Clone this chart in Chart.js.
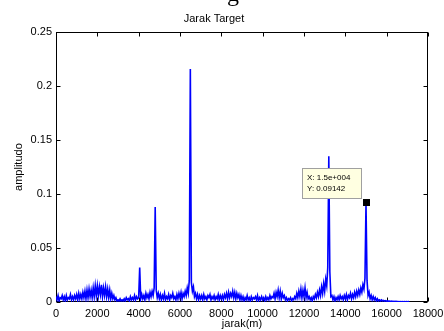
<!DOCTYPE html>
<html>
<head>
<meta charset="utf-8">
<script src="https://cdn.jsdelivr.net/npm/chart.js@4/dist/chart.umd.min.js"></script>
<style>
html, body { margin: 0; padding: 0; background: #fff; }
#wadah { position: relative; width: 444px; height: 331px; overflow: hidden; }
#potongan { position: absolute; left: 227px; top: -19px; font-family: "Liberation Serif"; font-size: 24px; line-height: 24px; color: #000; }
</style>
</head>
<body>
<div id="wadah">
  <canvas id="grafik" width="444" height="331"></canvas>
  <span id="potongan">g</span>
</div>
<script>
// Jarak sampel (m) dan amplitudo yang dibaca dari gambar
const jarakAwal = 0;
const jarakLangkah = 50;
const amplitudo = [
  // 0 - 950
  0.005,0.002,0.006,0.001,0.004,0.003,0.006,0.002,0.005,0.001,0.006,0.002,0.004,0.003,0.007,0.002,0.005,0.002,0.006,0.003,
  // 1000 - 1950
  0.007,0.002,0.008,0.003,0.007,0.003,0.009,0.004,0.010,0.003,0.011,0.004,0.012,0.005,0.011,0.004,0.013,0.005,0.015,0.006,
  // 2000 - 2950
  0.015,0.006,0.014,0.007,0.016,0.005,0.013,0.006,0.014,0.005,0.012,0.004,0.011,0.003,0.008,0.003,0.006,0.002,0.004,0.001,
  // 3000 - 3950
  0.002,0.001,0.003,0.001,0.002,0.001,0.003,0.001,0.004,0.002,0.003,0.001,0.005,0.002,0.004,0.002,0.006,0.002,0.005,0.003,
  // 4000 - 4950
  0.004,0.032,0.003,0.007,0.003,0.006,0.002,0.008,0.004,0.007,0.003,0.009,0.005,0.010,0.006,0.013,0.088,0.011,0.004,0.008,
  // 5000 - 5950
  0.003,0.007,0.002,0.006,0.003,0.008,0.002,0.005,0.003,0.007,0.002,0.006,0.004,0.008,0.003,0.005,0.002,0.007,0.003,0.008,
  // 6000 - 6950
  0.004,0.009,0.003,0.008,0.005,0.010,0.006,0.013,0.008,0.020,0.216,0.018,0.010,0.014,0.005,0.008,0.003,0.007,0.002,0.006,
  // 7000 - 7950
  0.003,0.006,0.002,0.007,0.003,0.005,0.002,0.006,0.004,0.007,0.002,0.005,0.003,0.006,0.002,0.005,0.003,0.007,0.002,0.006,
  // 8000 - 8950
  0.003,0.006,0.002,0.007,0.004,0.008,0.003,0.009,0.004,0.008,0.005,0.010,0.004,0.009,0.003,0.008,0.004,0.007,0.002,0.006,
  // 9000 - 9950
  0.002,0.005,0.001,0.004,0.002,0.006,0.002,0.004,0.001,0.005,0.002,0.004,0.003,0.005,0.002,0.006,0.001,0.004,0.002,0.005,
  // 10000 - 10950
  0.002,0.004,0.001,0.005,0.002,0.004,0.002,0.006,0.003,0.005,0.004,0.008,0.003,0.009,0.005,0.011,0.004,0.010,0.003,0.008,
  // 11000 - 11950
  0.004,0.006,0.002,0.004,0.001,0.003,0.002,0.004,0.001,0.003,0.002,0.005,0.003,0.008,0.004,0.010,0.005,0.012,0.004,0.011,
  // 12000 - 12950
  0.005,0.013,0.004,0.009,0.003,0.005,0.002,0.004,0.001,0.005,0.003,0.007,0.004,0.009,0.005,0.011,0.006,0.014,0.008,0.017,
  // 13000 - 13950
  0.010,0.021,0.015,0.032,0.135,0.028,0.005,0.006,0.002,0.005,0.001,0.004,0.002,0.005,0.002,0.006,0.003,0.005,0.002,0.006,
  // 14000 - 14950
  0.003,0.007,0.002,0.006,0.004,0.008,0.003,0.007,0.004,0.009,0.005,0.010,0.006,0.011,0.007,0.013,0.009,0.016,0.012,0.022,
  // 15000 - 15950
  0.09142,0.020,0.006,0.009,0.003,0.006,0.002,0.005,0.002,0.004,0.001,0.003,0.001,0.002,0.001,0.002,0.001,0.0015,0.0008,0.0012,
  // 16000 - 17100
  0.0008,0.0010,0.0006,0.0009,0.0005,0.0008,0.0005,0.0007,0.0004,0.0006,0.0004,0.0005,0.0003,0.0005,0.0003,0.0004,0.0003,0.0004,0.0002,0.0003,0.0002,0.0003,0.0002
];

// Label sumbu
const tickX = [0, 2000, 4000, 6000, 8000, 10000, 12000, 14000, 16000, 18000];
const labelX = ['0', '2000', '4000', '6000', '8000', '10000', '12000', '14000', '16000', '18000'];
const tickY = [0, 0.05, 0.1, 0.15, 0.2, 0.25];
const labelY = ['0', '0.05', '0.1', '0.15', '0.2', '0.25'];

// Data cursor (titik yang ditandai)
const titikX = 15000;
const titikY = 0.09142;
const teksTitik = ['X: 1.5e+004', 'Y: 0.09142'];

const titik = amplitudo.map((a, i) => ({ x: jarakAwal + i * jarakLangkah, y: a }));

const huruf = '"Liberation Sans", Arial, sans-serif';
Chart.defaults.color = '#000';
Chart.defaults.font.family = huruf;
Chart.defaults.font.size = 11;

// Kotak sumbu dan tick ke dalam ala MATLAB
const bingkai = {
  id: 'bingkai',
  beforeDatasetsDraw(chart) {
    const { ctx, chartArea: a, scales: { x, y } } = chart;
    const kiri = Math.round(a.left) + 0.5, kanan = Math.round(a.right) - 0.5;
    const atas = Math.round(a.top) + 0.5, bawah = Math.round(a.bottom) - 0.5;
    ctx.save();
    ctx.strokeStyle = '#000';
    ctx.lineWidth = 1;
    ctx.strokeRect(kiri, atas, kanan - kiri, bawah - atas);
    ctx.beginPath();
    tickX.forEach(v => {
      const px = Math.round(x.getPixelForValue(v)) + 0.5;
      ctx.moveTo(px, bawah); ctx.lineTo(px, bawah - 4);
      ctx.moveTo(px, atas); ctx.lineTo(px, atas + 4);
    });
    tickY.forEach(v => {
      const py = Math.round(y.getPixelForValue(v)) + 0.5;
      ctx.moveTo(kiri, py); ctx.lineTo(kiri + 4, py);
      ctx.moveTo(kanan, py); ctx.lineTo(kanan - 4, py);
    });
    ctx.stroke();
    ctx.restore();
  }
};

// Penanda titik dan kotak keterangannya
const penanda = {
  id: 'penanda',
  afterDatasetsDraw(chart) {
    const { ctx, scales: { x, y } } = chart;
    const px = Math.round(x.getPixelForValue(titikX));
    const py = Math.round(y.getPixelForValue(titikY));
    ctx.save();
    ctx.fillStyle = '#000';
    ctx.fillRect(px - 3, py - 4, 7, 7);
    const bx = px - 64 + 0.5, by = py - 35 + 0.5;
    ctx.fillStyle = '#ffffe1';
    ctx.fillRect(bx, by, 59, 30);
    ctx.strokeStyle = '#a0a0a0';
    ctx.lineWidth = 1;
    ctx.strokeRect(bx, by, 59, 30);
    ctx.fillStyle = '#000';
    ctx.font = '8px ' + huruf;
    ctx.textBaseline = 'middle';
    ctx.fillText(teksTitik[0], bx + 4.5, by + 9.5);
    ctx.fillText(teksTitik[1], bx + 4.5, by + 20.5);
    ctx.restore();
  }
};

new Chart(document.getElementById('grafik'), {
  type: 'line',
  data: {
    datasets: [{
      data: titik,
      borderColor: '#0000ff',
      borderWidth: 1.6,
      pointRadius: 0,
      tension: 0,
      fill: false
    }]
  },
  options: {
    responsive: false,
    animation: false,
    layout: { padding: { left: 0, right: 16, top: 0, bottom: 0 } },
    plugins: {
      legend: { display: false },
      tooltip: { enabled: false },
      title: {
        display: true,
        text: 'Jarak Target',
        font: { size: 11, weight: 'normal' },
        padding: { top: 12, bottom: 7 }
      }
    },
    scales: {
      x: {
        type: 'linear',
        min: 0,
        max: 18000,
        afterBuildTicks: s => { s.ticks = tickX.map(v => ({ value: v })); },
        ticks: {
          callback: (v) => labelX[tickX.indexOf(v)],
          padding: 5,
          maxRotation: 0,
          autoSkip: false
        },
        grid: { display: false, drawTicks: false },
        border: { display: false },
        title: { display: true, text: 'jarak(m)', padding: { top: 0, bottom: 0 } },
        afterFit: s => { s.height = 29; s.paddingLeft = 0; s.paddingRight = 0; }
      },
      y: {
        type: 'linear',
        min: 0,
        max: 0.25,
        afterBuildTicks: s => { s.ticks = tickY.map(v => ({ value: v })); },
        ticks: {
          callback: (v) => labelY[tickY.indexOf(v)],
          padding: 4
        },
        grid: { display: false, drawTicks: false },
        border: { display: false },
        title: { display: true, text: 'amplitudo', padding: { top: 12, bottom: 0 } },
        afterFit: s => { s.width = 56; s.paddingTop = 0; s.paddingBottom = 0; }
      }
    }
  },
  plugins: [bingkai, penanda]
});
</script>
</body>
</html>
